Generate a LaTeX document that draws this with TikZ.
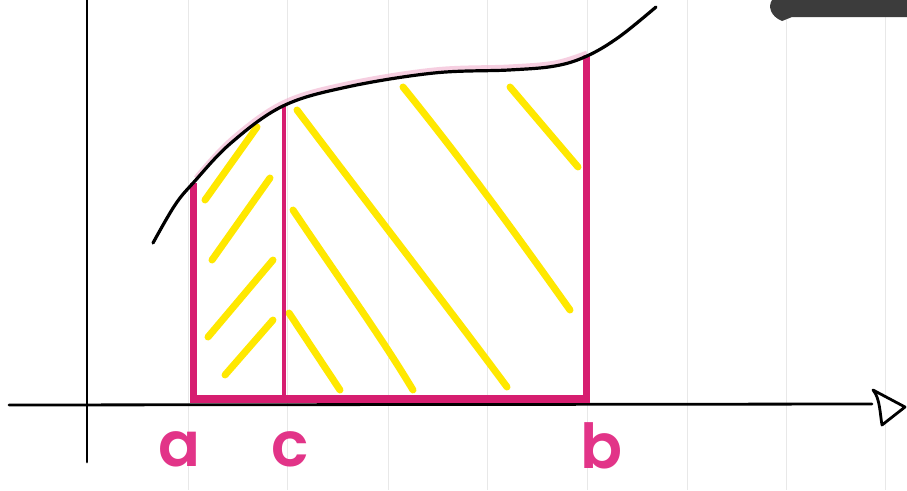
\documentclass[tikz,border=0pt]{standalone}
\usepackage{fontspec}
\newfontfamily\labelfont{Poppins}[UprightFont=* SemiBold]
\definecolor{magen}{RGB}{214,30,112}
\definecolor{lblpink}{RGB}{226,52,136}
\definecolor{hatch}{RGB}{255,232,0}
\definecolor{bardark}{RGB}{60,60,60}
\tikzset{
  gridline/.style={draw=black!9, line width=0.8pt},
  axisline/.style={draw=black, line width=2.8pt, line cap=round},
  edgeline/.style={draw=magen, line width=7pt},
  midline/.style={draw=magen, line width=4.5pt},
  hatchline/.style={draw=hatch, line width=7pt, line cap=round},
  ptlabel/.style={text=lblpink, font=\labelfont\fontsize{62}{62}\selectfont, inner sep=0pt, anchor=base}
}
\begin{document}
\begin{tikzpicture}[x=1pt,y=-1pt]
\useasboundingbox (0,0) rectangle (907,490);
\fill[white] (0,0) rectangle (907,490);
% faint grid
\foreach \gx in {188,287,388,487,587,687,786,885}
  \draw[gridline] (\gx,0) -- (\gx,490);
% dark bar top right
\fill[bardark] (907,0) -- (772,0) .. controls (768,6) and (770,16) .. (782,21) -- (792,17) -- (907,17) -- cycle;
% yellow hatching
\draw[hatchline] (205,200) -- (257,127);
\draw[hatchline] (212,260) -- (270,178);
\draw[hatchline] (208,337) -- (273,260);
\draw[hatchline] (225,375) -- (273,320);
\draw[hatchline] (297,110) .. controls (380,220) and (450,310) .. (507,387);
\draw[hatchline] (293,210) .. controls (340,280) and (380,335) .. (413,390);
\draw[hatchline] (289,313) -- (340,390);
\draw[hatchline] (403,87) .. controls (470,170) and (520,240) .. (570,310);
\draw[hatchline] (510,87) -- (578,167);
% axes
\draw[axisline] (87,0) -- (87,462);
\coordinate (xstart) at (9,405);
\coordinate (xend) at (872,404);
\draw[axisline] (xstart) -- (xend);
\draw[draw=black, line width=2.8pt, fill=white, line join=round]
  (873,390) .. controls (880,398) and (880,414) .. (882,425) -- (905,407) -- cycle;
% magenta rectangle
\draw[edgeline] (193,183) -- (193,403);
\draw[edgeline] (586,55) -- (586,403);
\draw[midline] (284,106) -- (284,399);
\draw[draw=magen, line width=8pt] (190,399) -- (590,399);
% curve
\draw[draw=magen!35, line width=5pt, opacity=0.6]
  plot[smooth, tension=0.6] coordinates {(196,178) (231,140) (283,103) (347,84) (434,70) (509,67) (555,63) (587,53)};
\draw[draw=black, line width=3.2pt, line cap=round]
  plot[smooth, tension=0.6] coordinates {(153,243) (175,205) (194,182) (231,143) (283,106) (347,87) (434,73) (509,70) (555,66) (587,56) (619,37) (656,7)};
% labels
\node[ptlabel] (la) at (180,466) {a};
\node[ptlabel] (lc) at (290,466) {c};
\node[ptlabel] (lb) at (602,468) {b};
\end{tikzpicture}
\end{document}
